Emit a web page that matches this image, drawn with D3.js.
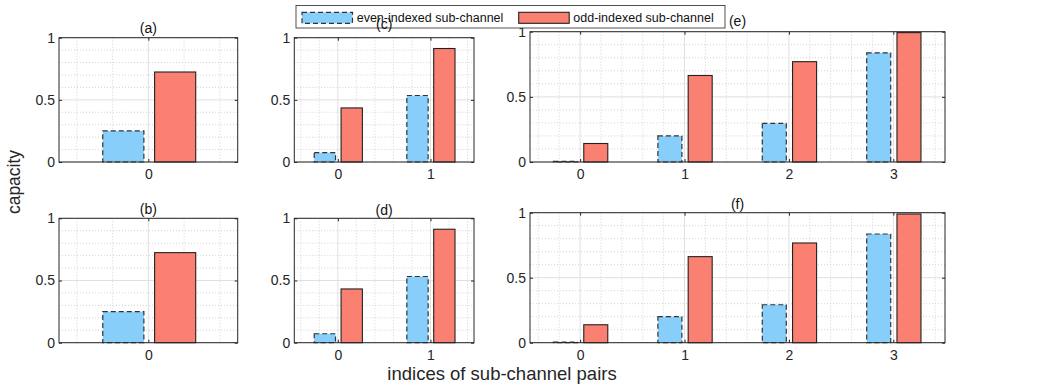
<!DOCTYPE html>
<html>
<head>
<meta charset="utf-8">
<script src="https://cdn.jsdelivr.net/npm/d3@7"></script>
<style>
  body { margin: 0; background: #fff; }
  svg { font-family: "Liberation Sans", Arial, sans-serif; }
</style>
</head>
<body>
<div class="myViz"></div>
<script>
// data: one pair index list + two series per panel
var pairsA = [0], evenA = [0.25], oddA = [0.724];
var pairsB = [0], evenB = [0.25], oddB = [0.724];
var pairsC = [0, 1], evenC = [0.075, 0.535], oddC = [0.435, 0.913];
var pairsD = [0, 1], evenD = [0.072, 0.532], oddD = [0.432, 0.912];
var pairsE = [0, 1, 2, 3], evenE = [0.005, 0.2, 0.296, 0.838], oddE = [0.142, 0.664, 0.77, 0.993];
var pairsF = [0, 1, 2, 3], evenF = [0.005, 0.2, 0.292, 0.836], oddF = [0.138, 0.662, 0.767, 0.99];
var yTicks = [0, 0.5, 1];
var yTickLabels = ["0", "0.5", "1"];
var seriesNames = ["even-indexed sub-channel", "odd-indexed sub-channel"];

var blue = "#87cefa", red = "#fa8072";

var svg = d3.select(".myViz")
  .append("svg")
  .attr("width", 1052)
  .attr("height", 385);

// panel layout (pixel boxes) and x domains
var panels = [
  {id: "(a)", pairs: pairsA, even: evenA, odd: oddA, x0: 59, x1: 237.7, y0: 37.7, y1: 162, dom: [-0.5, 0.5], ty: 29},
  {id: "(b)", pairs: pairsB, even: evenB, odd: oddB, x0: 59, x1: 237.7, y0: 218.3, y1: 342.7, dom: [-0.5, 0.5], ty: 210.5},
  {id: "(c)", pairs: pairsC, even: evenC, odd: oddC, x0: 294.3, x1: 474, y0: 37.7, y1: 162, dom: [-0.47, 1.47], ty: 25},
  {id: "(d)", pairs: pairsD, even: evenD, odd: oddD, x0: 294.3, x1: 474, y0: 218.3, y1: 342.7, dom: [-0.47, 1.47], ty: 211},
  {id: "(e)", pairs: pairsE, even: evenE, odd: oddE, x0: 530, x1: 945, y0: 31.7, y1: 162, dom: [-0.48, 3.495], ty: 22},
  {id: "(f)", pairs: pairsF, even: evenF, odd: oddF, x0: 530, x1: 945, y0: 212.7, y1: 342.7, dom: [-0.48, 3.495], ty: 205}
];

var barW = 0.23, offEven = -0.14, offOdd = 0.15;

panels.forEach(function(p) {
  var x = d3.scaleLinear().domain(p.dom).range([p.x0, p.x1]);
  var y = d3.scaleLinear().domain([0, 1]).range([p.y1, p.y0]);
  var g = svg.append("g");

  // minor grid (dotted)
  var minorX = d3.range(Math.ceil(p.dom[0] / 0.2) * 0.2, p.dom[1], 0.2)
    .filter(function(v) { return Math.abs(v - Math.round(v)) > 0.01; });
  var minorY = d3.range(0.1, 1, 0.1).filter(function(v) { return Math.abs(v - 0.5) > 0.01; });
  g.selectAll(".mx").data(minorX).enter().append("line")
    .attr("x1", d => x(d)).attr("x2", d => x(d))
    .attr("y1", p.y0).attr("y2", p.y1)
    .attr("stroke", "#c8c8c8").attr("stroke-width", 0.8).attr("stroke-dasharray", "1,2");
  g.selectAll(".my").data(minorY).enter().append("line")
    .attr("x1", p.x0).attr("x2", p.x1)
    .attr("y1", d => y(d)).attr("y2", d => y(d))
    .attr("stroke", "#c8c8c8").attr("stroke-width", 0.8).attr("stroke-dasharray", "1,2");

  // major grid
  g.selectAll(".gx").data(p.pairs).enter().append("line")
    .attr("x1", d => x(d)).attr("x2", d => x(d))
    .attr("y1", p.y0).attr("y2", p.y1)
    .attr("stroke", "#e0e0e0").attr("stroke-width", 1);
  g.selectAll(".gy").data(yTicks).enter().append("line")
    .attr("x1", p.x0).attr("x2", p.x1)
    .attr("y1", d => y(d)).attr("y2", d => y(d))
    .attr("stroke", "#e0e0e0").attr("stroke-width", 1);

  // bars
  g.selectAll(".be").data(p.pairs).enter().append("rect")
    .attr("x", (d, i) => x(d + offEven - barW / 2))
    .attr("width", (d, i) => x(barW) - x(0))
    .attr("y", (d, i) => y(p.even[i]))
    .attr("height", (d, i) => y(0) - y(p.even[i]))
    .attr("fill", blue).attr("stroke", "#333").attr("stroke-width", 1.2)
    .attr("stroke-dasharray", "5,3");
  g.selectAll(".bo").data(p.pairs).enter().append("rect")
    .attr("x", (d, i) => x(d + offOdd - barW / 2))
    .attr("width", (d, i) => x(barW) - x(0))
    .attr("y", (d, i) => y(p.odd[i]))
    .attr("height", (d, i) => y(0) - y(p.odd[i]))
    .attr("fill", red).attr("stroke", "#222").attr("stroke-width", 1.1);

  // axes (ticks point inward)
  g.append("g").attr("transform", "translate(0," + p.y1 + ")")
    .call(d3.axisBottom(x).tickValues(p.pairs).tickFormat(d3.format("d")).tickSize(-3).tickPadding(7));
  g.append("g").attr("transform", "translate(" + p.x0 + ",0)")
    .call(d3.axisLeft(y).tickValues(yTicks).tickFormat((d, i) => yTickLabels[i]).tickSize(-3).tickPadding(4));
  g.append("g").attr("transform", "translate(0," + p.y0 + ")")
    .call(d3.axisTop(x).tickValues(p.pairs).tickFormat("").tickSize(-3));
  g.append("g").attr("transform", "translate(" + p.x1 + ",0)")
    .call(d3.axisRight(y).tickValues(yTicks).tickFormat("").tickSize(-3));
  g.selectAll(".domain").remove();
  g.selectAll(".tick line").attr("stroke", "#262626");
  g.selectAll(".tick text").attr("fill", "#262626").style("font-size", "14px")
    .style("font-family", "'Liberation Sans', Arial, sans-serif");

  // box
  g.append("rect")
    .attr("x", p.x0).attr("y", p.y0)
    .attr("width", p.x1 - p.x0).attr("height", p.y1 - p.y0)
    .attr("fill", "none").attr("stroke", "#262626").attr("stroke-width", 1);

  p.titleX = (p.x0 + p.x1) / 2;
});

// legend
var leg = svg.append("g");
leg.append("rect").attr("x", 296).attr("y", 5.5).attr("width", 429).attr("height", 22.5)
  .attr("fill", "#fff").attr("stroke", "#262626").attr("stroke-width", 0.8);
leg.append("rect").attr("x", 302).attr("y", 12.3).attr("width", 50.5).attr("height", 11)
  .attr("fill", blue).attr("stroke", "#333").attr("stroke-width", 1.2).attr("stroke-dasharray", "5,3");
leg.append("rect").attr("x", 518.7).attr("y", 12.3).attr("width", 50.5).attr("height", 11)
  .attr("fill", red).attr("stroke", "#222").attr("stroke-width", 1.1);
leg.append("text").attr("x", 356.7).attr("y", 22).text(seriesNames[0])
  .attr("font-size", "12.5px").attr("fill", "#111");
leg.append("text").attr("x", 573.3).attr("y", 22).text(seriesNames[1])
  .attr("font-size", "12.5px").attr("fill", "#111");

// panel titles (drawn over the legend, as in the original)
panels.forEach(function(p) {
  svg.append("text").attr("x", p.titleX).attr("y", p.ty)
    .attr("text-anchor", "middle").attr("dominant-baseline", "middle")
    .attr("font-size", "14px").attr("fill", "#111").text(p.id);
});

// shared axis labels
svg.append("text").attr("transform", "translate(15,182) rotate(-90)")
  .attr("text-anchor", "middle").attr("dominant-baseline", "middle")
  .attr("font-size", "17.5px").attr("fill", "#262626").text("capacity");
svg.append("text").attr("x", 502).attr("y", 375)
  .attr("text-anchor", "middle").attr("dominant-baseline", "middle")
  .attr("font-size", "18.5px").attr("fill", "#262626").text("indices of sub-channel pairs");
</script>
</body>
</html>
